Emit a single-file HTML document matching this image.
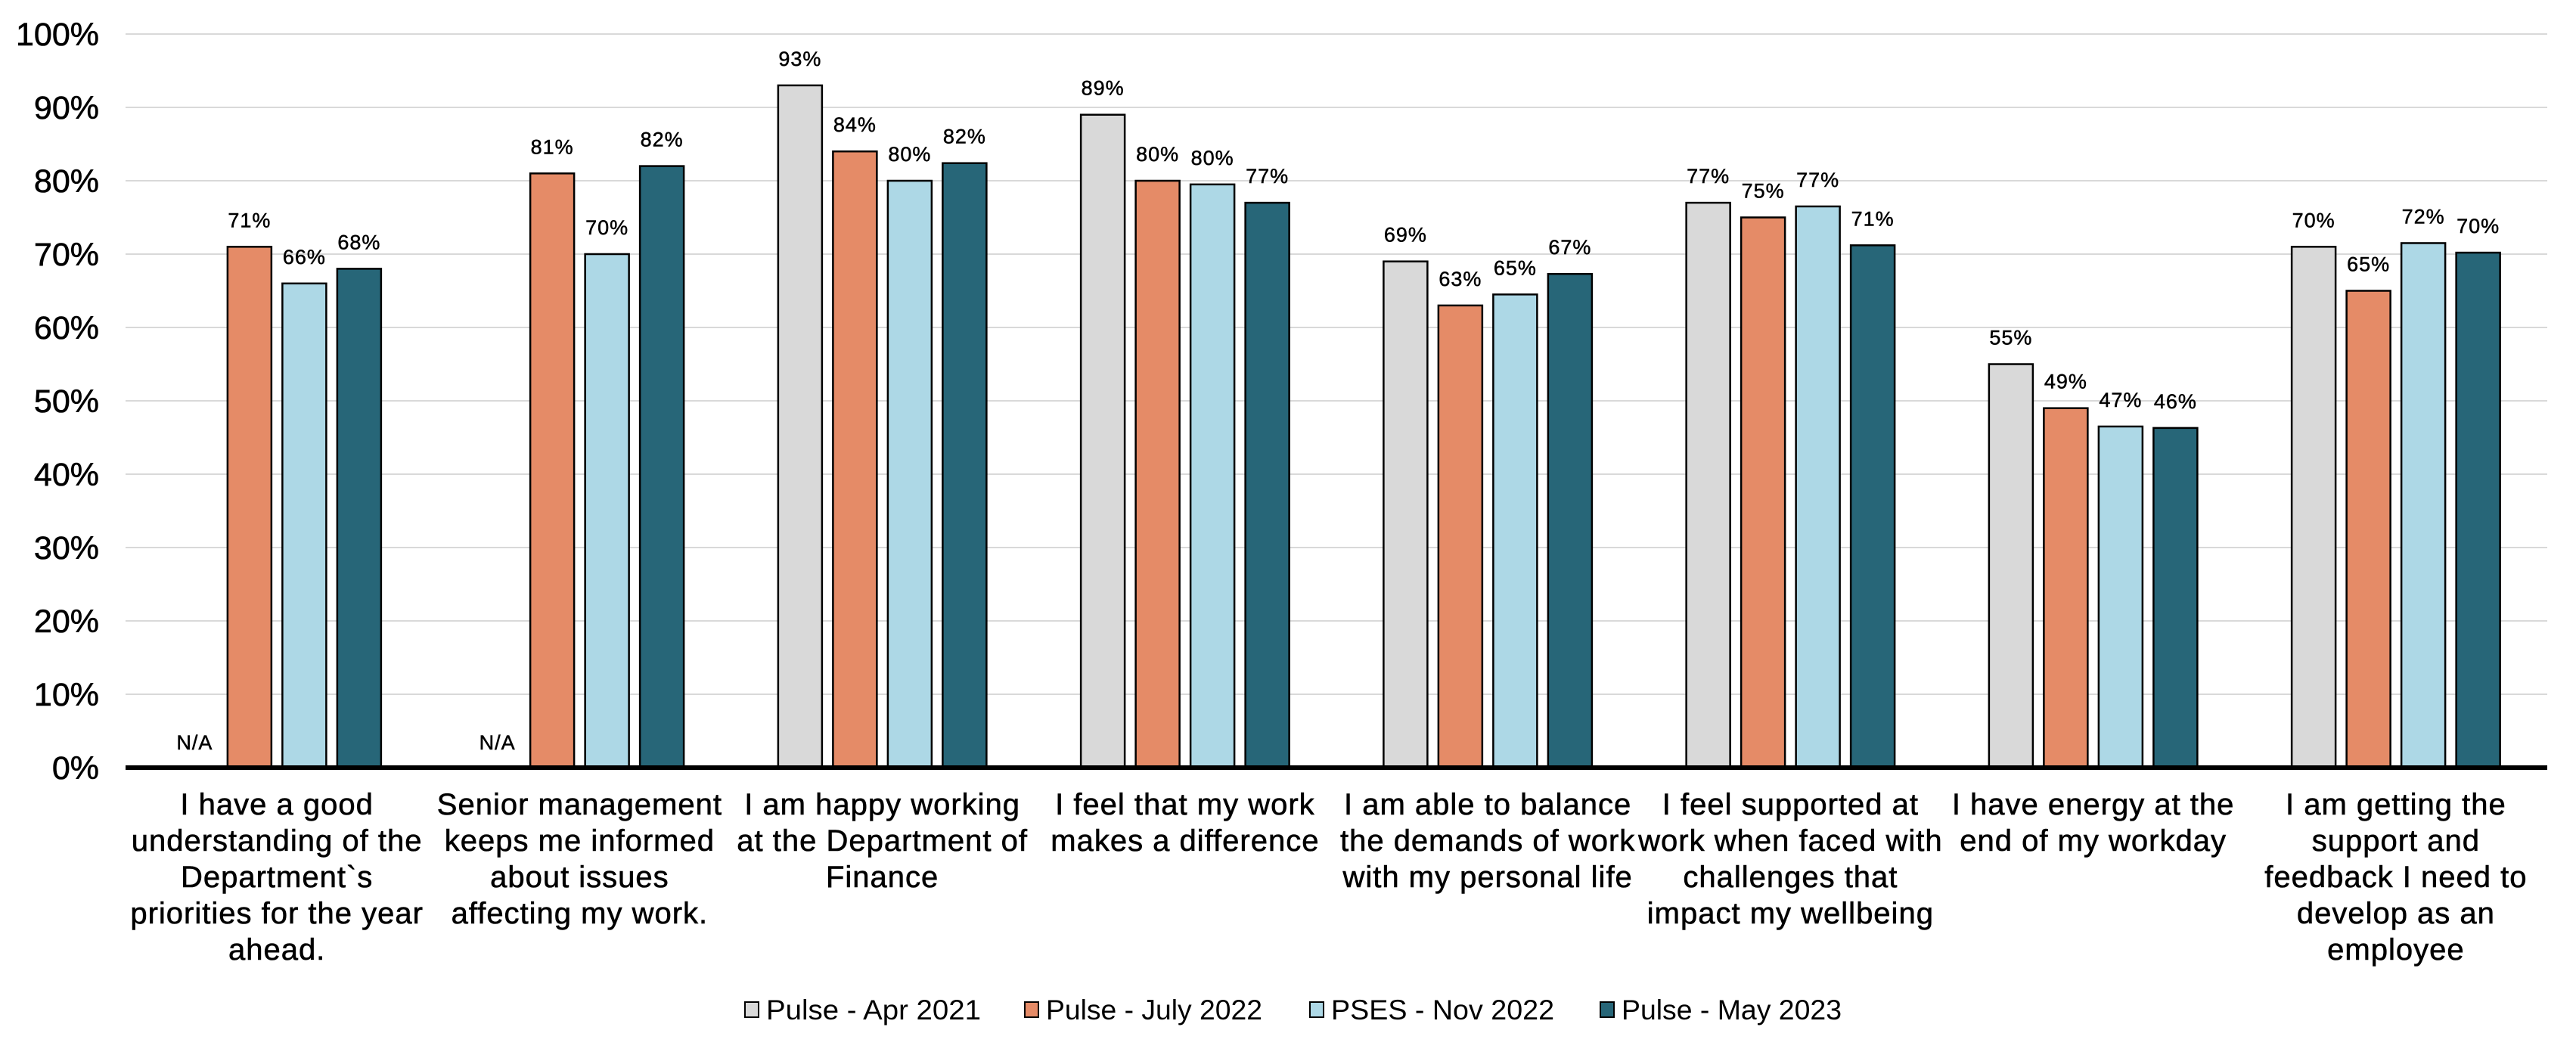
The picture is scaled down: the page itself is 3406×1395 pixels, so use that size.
<!DOCTYPE html>
<html><head><meta charset="utf-8"><style>
html,body{margin:0;padding:0;background:#fff;}
svg{display:block;font-family:"Liberation Sans",Arial,sans-serif;}
</style></head><body>
<svg id="chart" width="3406" height="1395" viewBox="0 0 3406 1395"></svg>
<script>
const categories = [
 ["I have a good","understanding of the","Department`s","priorities for the year","ahead."],
 ["Senior management","keeps me informed","about issues","affecting my work."],
 ["I am happy working","at the Department of","Finance"],
 ["I feel that my work","makes a difference"],
 ["I am able to balance","the demands of work","with my personal life"],
 ["I feel supported at","work when faced with","challenges that","impact my wellbeing"],
 ["I have energy at the","end of my workday"],
 ["I am getting the","support and","feedback I need to","develop as an","employee"]
];
const seriesNames = ["Pulse - Apr 2021","Pulse - July 2022","PSES - Nov 2022","Pulse - May 2023"];
const aprValues  = [null, null, 93, 89, 69, 77, 55, 71];
const julyValues = [71, 81, 84, 80, 63, 75, 49, 65];
const psesValues = [66, 70, 80, 79.5, 64.5, 76.5, 46.5, 71.5];
const mayValues  = [68, 82, 82.4, 77, 67.3, 71.2, 46.3, 70.2];
const aprLabels  = ["N/A","N/A","93%","89%","69%","77%","55%","70%"];
const julyLabels = ["71%","81%","84%","80%","63%","75%","49%","65%"];
const psesLabels = ["66%","70%","80%","80%","65%","77%","47%","72%"];
const mayLabels  = ["68%","82%","82%","77%","67%","71%","46%","70%"];
const yTicks = [0,10,20,30,40,50,60,70,80,90,100];

const colors = ["#d9d9d9","#e58b67","#add8e6","#276678"];
const allValues = [aprValues, julyValues, psesValues, mayValues];
const allLabels = [aprLabels, julyLabels, psesLabels, mayLabels];
const NS = "http://www.w3.org/2000/svg";
const svg = document.getElementById("chart");
const plotL = 166, plotR = 3368, y0 = 1015, y100 = 45;
const groupW = (plotR - plotL) / categories.length;
const barW = 58, pitch = 72.5;
function yScale(v){ return y0 - (v/100)*(y0 - y100); }
function xGroup(i){ return plotL + groupW*(i+0.5); }
function xBar(i,s){ return xGroup(i) + (s-1.5)*pitch; }
function mk(tag, attrs, txt){
  const e = document.createElementNS(NS, tag);
  for (const k in attrs) e.setAttribute(k, attrs[k]);
  if (txt !== undefined) e.textContent = txt;
  svg.appendChild(e); return e;
}
yTicks.forEach(t => {
  if (t > 0) {
    const g = mk("line",{x1:plotL,x2:plotR,y1:yScale(t),y2:yScale(t),stroke:"#d9d9d9","stroke-width":2});
    
    
  }
  const tl = mk("text",{x:131,y:yScale(t)+15,"text-anchor":"end","font-size":43,fill:"#000",stroke:"#000","stroke-width":0.6}, t+"%");
  
  
});
allValues.forEach((vals, s) => {
  vals.forEach((v, i) => {
    const cx = xBar(i,s);
    if (v === null) {
      const na = mk("text",{x:cx,y:y0-24,"text-anchor":"middle","font-size":27,fill:"#000",stroke:"#000","stroke-width":0.5,"letter-spacing":1}, allLabels[s][i]);
      
      
      return;
    }
    const r = mk("rect",{x:cx-barW/2,y:yScale(v),width:barW,height:y0-yScale(v),fill:colors[s],stroke:"#000","stroke-width":2.5});
    
    
    const lb = mk("text",{x:cx,y:yScale(v)-26,"text-anchor":"middle","font-size":27,fill:"#000",stroke:"#000","stroke-width":0.5,"letter-spacing":1}, allLabels[s][i]);
    
    
  });
});
const ax = mk("line",{x1:plotL,x2:plotR,y1:y0,y2:y0,stroke:"#000","stroke-width":6});


categories.forEach((lines, i) => {
  lines.forEach((ln, k) => {
    const t = mk("text",{x:xGroup(i),y:1077+k*48,"text-anchor":"middle","font-size":40,fill:"#000",stroke:"#000","stroke-width":0.6,"letter-spacing":1}, ln);
    
    
  });
});
const legX = [985,1355,1732,2116];
const legLen = [284,286,295,291];
seriesNames.forEach((n, s) => {
  const b = mk("rect",{x:legX[s],y:1325,width:18,height:20,fill:colors[s],stroke:"#000","stroke-width":2});
  
  
  const t = mk("text",{x:legX[s]+28,y:1348,"font-size":37,fill:"#000",textLength:legLen[s],lengthAdjust:"spacingAndGlyphs"}, n);
  
  
});
</script>
</body></html>
